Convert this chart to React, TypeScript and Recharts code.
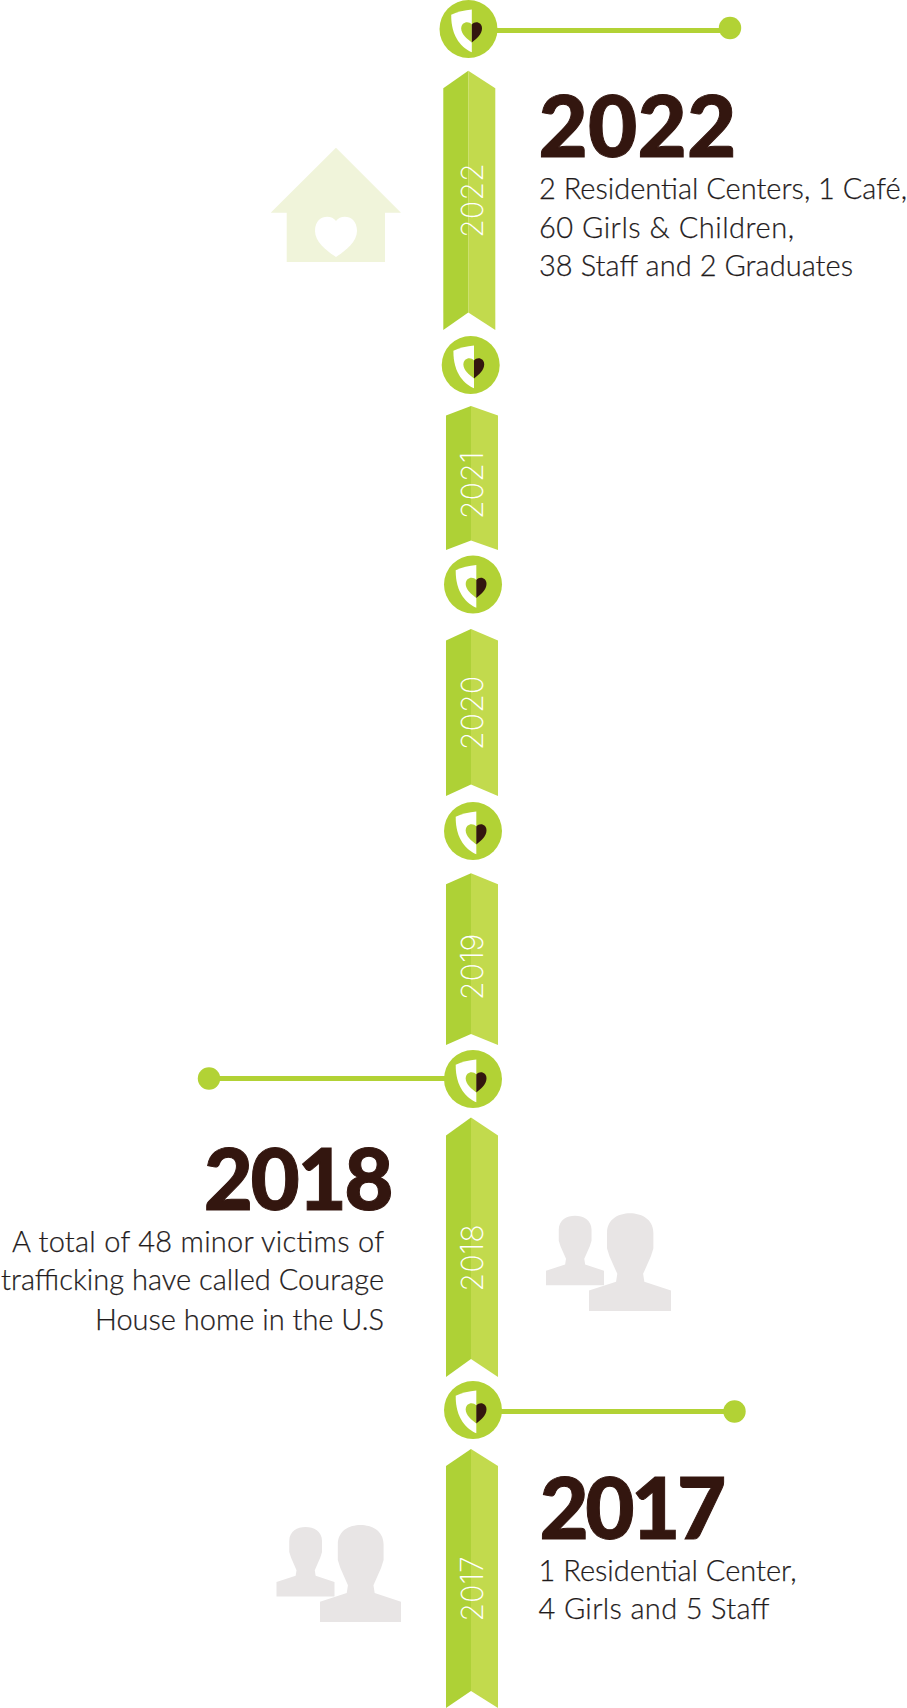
import React from "react";
import { ComposedChart, Bar, Scatter, XAxis, YAxis } from "recharts";

const W = 907;
const H = 1708;

// timeline: ribbons, read in timeline units along the axis
const years = [2022, 2021, 2020, 2019, 2018, 2017];
const ribbonCentre = [468.3, 471, 471, 471, 471, 471];
const ribbonStart = [70.7, 406, 629, 873.3, 1117.5, 1449];
const ribbonEnd = [330, 550, 796, 1045, 1377, 1708];
const ribbonTaper = [17.5, 9.5, 11.5, 11, 18, 17];
const ribbonLabelCentre = [200.5, 485.5, 713, 967, 1258, 1589];
const ribbonLabelBaseline = [482.7, 482.7, 483, 483, 483, 483];

// badges between ribbons
const badgeX = [468.5, 470.7, 473, 473, 473, 473];
const badgeY = [29, 365, 584.5, 831, 1079, 1410];

// connectors
const connectorStartX = [468, 473, 473];
const connectorEndX = [730, 209, 734.5];
const connectorY = [30.5, 1078.5, 1411.5];
const connectorDotY = [28, 1078.5, 1411.5];

// notes
const noteYears = ["2022", "2018", "2017"];
const noteAnchorX = [538.5, 391, 539.5];
const noteTitleBaseline = [157, 1209.5, 1538.5];
const noteTitleSpacing = [0.2, -2.5, -3.5];
const noteBodyX = [539, 384, 538.5];
const noteBodyBaselines = [[199, 238, 276], [1252, 1290, 1330], [1581, 1619]];
const noteLines = [
  ["2 Residential Centers, 1 Café,", "60 Girls & Children,", "38 Staff and 2 Graduates"],
  ["A total of 48 minor victims of", "trafficking have called Courage", "House home in the U.S"],
  ["1 Residential Center,", "4 Girls and 5 Staff"],
];
const noteLineWidths = [[368, 255, 314], [372, 383, 289], [258, 231]];
const noteAlign = ["start", "end", "start"];

// pictograms
const personLeft = [546, 589, 276.5, 320];
const personTop = [1215.7, 1213.3, 1527, 1525];
const personWidth = [58, 82, 58, 81];
const personHeight = [69.6, 97.7, 69.6, 97];
const houseX = [336];
const houseY = [205];

const GREEN = "#b2d235";
const GREEN_L = "#aed136";
const GREEN_R = "#c2da4d";
const DARK = "#33160f";
const BODY = "#1f1b1c";
const GREY = "#e8e5e5";
const PALE = "#f0f4da";
const FONT = "Lato, sans-serif";

const ribbonData = years.map((year, i) => ({
  year,
  x: ribbonCentre[i],
  span: [ribbonStart[i], ribbonEnd[i]],
  taper: ribbonTaper[i],
  labelOffset: ribbonLabelCentre[i] - ribbonStart[i],
  labelShift: ribbonLabelBaseline[i] - ribbonCentre[i],
}));
const badgeData = badgeX.map((x, i) => ({ x, y: badgeY[i] }));
const dotData = connectorEndX.map((x, i) => ({ x, y: connectorDotY[i] }));
const noteData = noteYears.map((year, i) => ({
  x: noteAnchorX[i],
  y: noteTitleBaseline[i],
  year,
  spacing: noteTitleSpacing[i],
  bodyX: noteBodyX[i],
  baselines: noteBodyBaselines[i],
  lines: noteLines[i],
  widths: noteLineWidths[i],
  align: noteAlign[i],
}));
const personData = personLeft.map((x, i) => ({
  x,
  y: personTop[i],
  w: personWidth[i],
  h: personHeight[i],
}));
const houseData = houseX.map((x, i) => ({ x, y: houseY[i] }));

function Ribbon(props: any) {
  const { x, y, width, height, payload } = props;
  const t = payload.taper;
  const m = x + width / 2;
  const top = Math.min(y, y + height);
  const b = Math.max(y, y + height);
  const l = m - 25;
  const r = m + 27;
  return (
    <g>
      <path d={`M${l} ${top + t}L${m} ${top}L${m} ${b - t}L${l} ${b}Z`} fill={GREEN_L} />
      <path d={`M${r} ${top + t}L${m} ${top}L${m} ${b - t}L${r} ${b}Z`} fill={GREEN_R} />
      <text
        transform={`translate(${m + payload.labelShift} ${top + payload.labelOffset}) rotate(-90)`}
        textAnchor="middle"
        fontFamily="Inter, sans-serif"
        fontWeight={200}
        fontSize={30.5}
        fill="#ffffff"
      >
        {payload.year}
      </text>
    </g>
  );
}

function Badge(props: any) {
  const { cx, cy } = props;
  return (
    <g transform={`translate(${cx} ${cy})`}>
      <circle r={29} fill={GREEN} />
      <path d="M-17.3 -14.3C-11 -17 -4 -19 3.3 -19.5L3.3 23.3C-6 19 -17.5 9 -17.3 -14.3Z" fill="#fff" />
      <path d="M3.3 -4.5C0 -8.5 -7.3 -7 -7.3 -0.5C-7.3 5 -1.5 10 3.3 13.5Z" fill={GREEN} />
      <path d="M3.3 -4.5C6.6 -8.5 13.5 -7 13.5 -0.5C13.5 5 8 10 3.3 13.5Z" fill={DARK} />
    </g>
  );
}

function Note(props: any) {
  const { cx, cy, payload } = props;
  return (
    <g fontFamily={FONT}>
      <text
        x={cx}
        y={cy}
        textAnchor={payload.align}
        fontWeight={900}
        fontSize={85}
        letterSpacing={payload.spacing}
        stroke={DARK}
        strokeWidth={1}
        fill={DARK}
      >
        {payload.year}
      </text>
      {payload.lines.map((line: string, i: number) => (
        <text
          key={line}
          x={payload.bodyX}
          y={payload.baselines[i]}
          textAnchor={payload.align}
          textLength={payload.widths[i]}
          lengthAdjust="spacing"
          fontWeight={300}
          fontSize={29}
          stroke={BODY}
          strokeWidth={0.25}
          fill={BODY}
        >
          {line}
        </text>
      ))}
    </g>
  );
}

function Person(props: any) {
  const { cx, cy, payload } = props;
  const { w, h } = payload;
  const P = (a: number, b: number) => `${cx + a * w} ${cy + b * h}`;
  const d =
    `M${P(0, 0.79)}L${P(0.33, 0.7)}L${P(0.345, 0.62)}` +
    `L${P(0.25, 0.44)}L${P(0.22, 0.36)}L${P(0.22, 0.2)}C${P(0.22, 0.06)} ${P(0.36, 0)} ${P(0.5, 0)}` +
    `C${P(0.64, 0)} ${P(0.785, 0.06)} ${P(0.785, 0.2)}L${P(0.785, 0.36)}L${P(0.755, 0.44)}L${P(0.66, 0.62)}` +
    `L${P(0.675, 0.7)}L${P(1, 0.79)}L${P(1, 1)}L${P(0, 1)}Z`;
  return <path d={d} fill={GREY} />;
}

function House(props: any) {
  const { cx, cy } = props;
  return (
    <g transform={`translate(${cx} ${cy})`}>
      <path
        fillRule="evenodd"
        fill={PALE}
        d="M0 -57.3L65 7.7L49 7.7L49 57L-49.3 57L-49.3 7.7L-65.3 7.7Z
           M0 16C-5 9 -21 10 -21 26C-21 37 -9 46 0 52C9 46 21 37 21 26C21 10 5 9 0 16Z"
      />
    </g>
  );
}

const Dot = (props: any) => <circle cx={props.cx} cy={props.cy} r={11.2} fill={GREEN} />;
const NoDot = () => null;

export default function App() {
  return (
    <div style={{ position: "absolute", left: 0, top: 0, width: W, height: H, background: "#fff" }}>
      <ComposedChart width={W} height={H} data={ribbonData} margin={{ top: 0, right: 0, bottom: 0, left: 0 }}>
        <XAxis type="number" dataKey="x" domain={[0, W]} hide />
        <YAxis type="number" dataKey="y" domain={[0, H]} reversed hide />
        <Bar dataKey="span" barSize={52} isAnimationActive={false} shape={<Ribbon />} />
        {connectorEndX.map((end, i) => (
          <Scatter
            key={end}
            data={[
              { x: connectorStartX[i], y: connectorY[i] },
              { x: end, y: connectorY[i] },
            ]}
            line={{ stroke: GREEN, strokeWidth: 5 }}
            shape={<NoDot />}
            isAnimationActive={false}
          />
        ))}
        <Scatter data={dotData} shape={<Dot />} isAnimationActive={false} />
        <Scatter data={badgeData} shape={<Badge />} isAnimationActive={false} />
        <Scatter data={houseData} shape={<House />} isAnimationActive={false} />
        <Scatter data={personData} shape={<Person />} isAnimationActive={false} />
        <Scatter data={noteData} shape={<Note />} isAnimationActive={false} />
      </ComposedChart>
    </div>
  );
}
